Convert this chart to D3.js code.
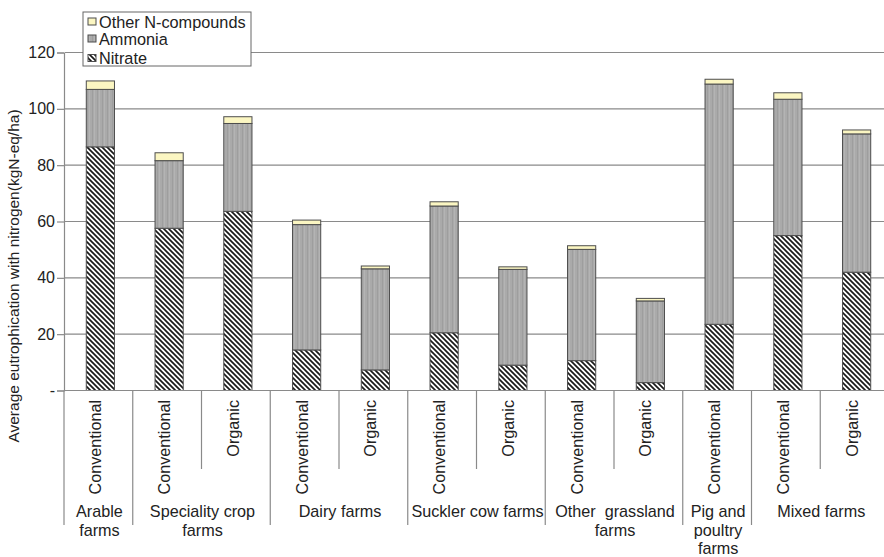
<!DOCTYPE html>
<html>
<head>
<meta charset="utf-8">
<script src="https://cdn.jsdelivr.net/npm/d3@7"></script>
<style>
  html, body { margin: 0; padding: 0; background: #fff; }
  svg { display: block; font-family: "Liberation Sans", Arial, sans-serif; }
</style>
</head>
<body>
<svg id="chart" width="884" height="557"></svg>
<script>
// Farm system per bar, and the farm-type group each bar belongs to
const systems = ["Conventional", "Conventional", "Organic", "Conventional", "Organic",
  "Conventional", "Organic", "Conventional", "Organic", "Conventional", "Conventional", "Organic"];
const groupLabels = [["Arable", "farms"], ["Speciality crop", "farms"], ["Dairy farms"],
  ["Suckler cow farms"], ["Other  grassland", "farms"], ["Pig and", "poultry", "farms"], ["Mixed farms"]];
const groupSizes = [1, 2, 2, 2, 2, 1, 2];

// Average eutrophication with nitrogen (kgN-eq/ha), stacked bottom to top
const nitrate = [86.5, 57.6, 63.6, 14.4, 7.3, 20.5, 9.0, 10.6, 2.8, 23.5, 55.0, 42.0];
const ammonia = [20.4, 24.0, 31.2, 44.5, 35.9, 45.0, 34.0, 39.5, 29.0, 85.3, 48.4, 49.1];
const otherN = [3.0, 2.8, 2.4, 1.6, 1.0, 1.5, 0.9, 1.3, 0.9, 1.7, 2.3, 1.4];

const seriesNames = ["Nitrate", "Ammonia", "Other N-compounds"];
const yTicks = [0, 20, 40, 60, 80, 100, 120];

const svg = d3.select("#chart");
const defs = svg.append("defs");

// Diagonal hatch for nitrate
const hatch = defs.append("pattern").attr("id", "hatch")
  .attr("patternUnits", "userSpaceOnUse").attr("width", 5).attr("height", 5);
hatch.append("rect").attr("width", 5).attr("height", 5).attr("fill", "#fff");
hatch.append("path").attr("d", "M0,0L5,5M-1,4L1,6M4,-1L6,1")
  .attr("stroke", "#1a1a1a").attr("stroke-width", 1.7);

// Grey with faint vertical streaks for ammonia
const streak = defs.append("pattern").attr("id", "streak")
  .attr("patternUnits", "userSpaceOnUse").attr("width", 5).attr("height", 10);
streak.append("rect").attr("width", 5).attr("height", 10).attr("fill", "#aaaaaa");
streak.append("rect").attr("x", 2).attr("width", 1).attr("height", 10).attr("fill", "#9e9e9e");
streak.append("rect").attr("x", 4).attr("width", 1).attr("height", 10).attr("fill", "#b4b4b4");

const fills = { "Nitrate": "url(#hatch)", "Ammonia": "url(#streak)", "Other N-compounds": "#fbf6c2" };

const plotLeft = 65, step = 68.75, plotTop = 52.5, plotBottom = 390.5;
const idx = d3.range(systems.length);
const x = d3.scaleBand().domain(idx).range([plotLeft, plotLeft + step * idx.length]).padding(0);
const y = d3.scaleLinear().domain([0, 120]).range([plotBottom, plotTop]);
const barW = x.bandwidth() * 0.41;

// Gridlines
svg.append("g").selectAll("line").data(yTicks.filter(d => d > 0)).join("line")
  .attr("x1", plotLeft).attr("x2", 884).attr("y1", d => y(d)).attr("y2", d => y(d))
  .attr("stroke", "#8a8a8a").attr("stroke-width", 1.2);

// Y axis
const yAxis = d3.axisLeft(y).tickValues(yTicks).tickSize(7).tickPadding(2)
  .tickFormat(d => d === 0 ? "-" : d);
const ya = svg.append("g").attr("transform", `translate(${plotLeft - 1},0)`).call(yAxis);
ya.select(".domain").attr("stroke", "#8a8a8a").attr("stroke-width", 1.2);
ya.selectAll(".tick line").attr("stroke", "#8a8a8a").attr("stroke-width", 1.2);
ya.selectAll(".tick text").attr("font-size", 16).attr("fill", "#222")
  .attr("font-family", "Liberation Sans, Arial, sans-serif");

// Stacked bars
const rows = idx.map(i => ({ i, "Nitrate": nitrate[i], "Ammonia": ammonia[i], "Other N-compounds": otherN[i] }));
const stacked = d3.stack().keys(seriesNames)(rows);
svg.append("g").selectAll("g").data(stacked).join("g")
  .attr("fill", s => fills[s.key])
  .selectAll("rect").data(s => s).join("rect")
  .attr("x", d => x(d.data.i) + (x.bandwidth() - barW) / 2 + 1)
  .attr("width", barW)
  .attr("y", d => y(d[1]))
  .attr("height", d => y(d[0]) - y(d[1]))
  .attr("stroke", "#4d4d4d").attr("stroke-width", 1);

// X axis baseline
svg.append("line").attr("x1", plotLeft - 1).attr("x2", 884).attr("y1", plotBottom).attr("y2", plotBottom)
  .attr("stroke", "#8a8a8a").attr("stroke-width", 1.2);

// Separators below the axis: long ones between farm types, short ones within
const groupStarts = [0];
groupSizes.forEach((n, k) => groupStarts.push(groupStarts[k] + n));
const sepData = d3.range(systems.length + 1).map(i => ({ i, long: groupStarts.includes(i) }));
svg.append("g").selectAll("line").data(sepData).join("line")
  .attr("x1", d => plotLeft - 1 + d.i * x.step()).attr("x2", d => plotLeft - 1 + d.i * x.step())
  .attr("y1", plotBottom).attr("y2", d => d.long ? 525 : 469)
  .attr("stroke", "#8a8a8a").attr("stroke-width", 1.2);

// System labels
svg.append("g").selectAll("text").data(idx).join("text")
  .attr("transform", i => `translate(${x(i) + x.bandwidth() / 2 + 2},400) rotate(-90)`)
  .attr("text-anchor", "end").attr("font-size", 16.2).attr("fill", "#222")
  .text(i => systems[i]);

// Farm-type labels
const gl = svg.append("g").selectAll("text").data(groupLabels).join("text")
  .attr("text-anchor", "middle").attr("font-size", 16.2).attr("fill", "#222")
  .attr("x", (d, k) => (plotLeft + groupStarts[k] * x.step() + plotLeft + groupStarts[k + 1] * x.step()) / 2)
  .attr("y", 517)
  .style("white-space", "pre");
gl.selectAll("tspan").data(d => d).join("tspan")
  .attr("x", function () { return this.parentNode.getAttribute("x"); })
  .attr("dy", (d, j) => j === 0 ? 0 : 18.5)
  .text(d => d);

// Y axis title
svg.append("text")
  .attr("transform", "translate(19,276) rotate(-90)")
  .attr("text-anchor", "middle").attr("font-size", 15.5).attr("fill", "#222")
  .text("Average eutrophication with nitrogen(kgN-eq/ha)");

// Legend
const lg = svg.append("g");
lg.append("rect").attr("x", 83).attr("y", 12).attr("width", 168).attr("height", 54)
  .attr("fill", "#fff").attr("stroke", "#666").attr("stroke-width", 1);
const legendItems = [
  { key: "Other N-compounds", cy: 22 },
  { key: "Ammonia", cy: 39 },
  { key: "Nitrate", cy: 58.5 }
];
lg.selectAll("rect.sw").data(legendItems).join("rect").attr("class", "sw")
  .attr("x", 88).attr("y", d => d.cy - 4).attr("width", 8).attr("height", 7)
  .attr("fill", d => fills[d.key]).attr("stroke", "#4d4d4d").attr("stroke-width", 1);
lg.selectAll("text").data(legendItems).join("text")
  .attr("x", 99).attr("y", d => d.cy + 5.8)
  .attr("font-size", 16.3).attr("fill", "#222")
  .text(d => d.key);
</script>
</body>
</html>
